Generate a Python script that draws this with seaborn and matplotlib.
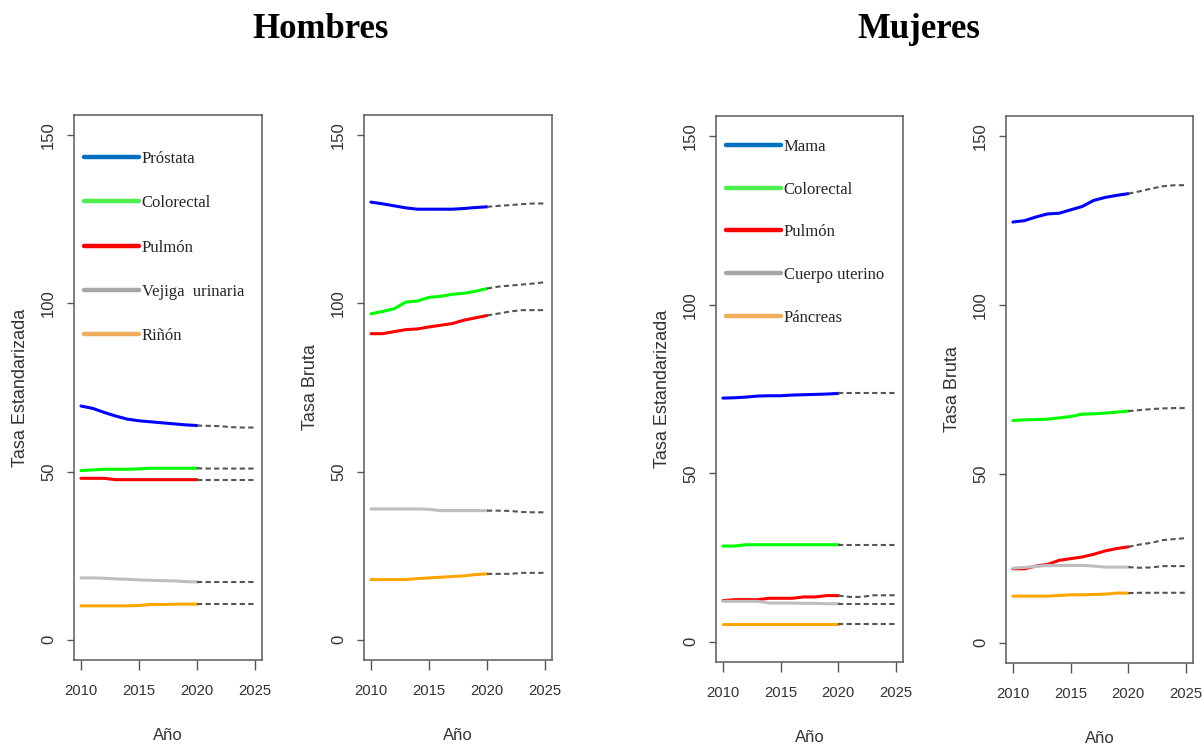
import numpy as np
import pandas as pd
import matplotlib
matplotlib.use("Agg")
import matplotlib.pyplot as plt
from matplotlib.lines import Line2D
import seaborn as sns

# ---------------- data ----------------
years_obs = list(range(2010, 2021))
years_proj = list(range(2020, 2026))

cancer_h = ["Próstata", "Colorectal", "Pulmón", "Vejiga  urinaria", "Riñón"]
cancer_m = ["Mama", "Colorectal", "Pulmón", "Cuerpo uterino", "Páncreas"]

# Hombres - Tasa Estandarizada
h_est_obs = {
    "Próstata":         [69.5, 68.8, 67.6, 66.5, 65.6, 65.1, 64.8, 64.5, 64.2, 63.9, 63.7],
    "Colorectal":       [50.3, 50.5, 50.7, 50.7, 50.7, 50.8, 51.0, 51.0, 51.0, 51.0, 51.0],
    "Pulmón":           [48.0, 48.0, 48.0, 47.6, 47.6, 47.6, 47.6, 47.6, 47.6, 47.6, 47.6],
    "Vejiga  urinaria": [18.4, 18.4, 18.3, 18.1, 18.0, 17.8, 17.7, 17.6, 17.5, 17.3, 17.2],
    "Riñón":            [10.1, 10.1, 10.1, 10.1, 10.1, 10.2, 10.5, 10.5, 10.6, 10.6, 10.6],
}
h_est_proj = {
    "Próstata":         [63.7, 63.6, 63.5, 63.2, 63.1, 63.1],
    "Colorectal":       [51.0, 50.9, 50.9, 50.9, 50.9, 50.9],
    "Pulmón":           [47.6, 47.6, 47.6, 47.6, 47.6, 47.6],
    "Vejiga  urinaria": [17.2, 17.2, 17.2, 17.2, 17.2, 17.2],
    "Riñón":            [10.6, 10.6, 10.6, 10.6, 10.6, 10.6],
}
# Hombres - Tasa Bruta
h_bru_obs = {
    "Próstata":         [130.1, 129.6, 129.0, 128.4, 128.0, 128.0, 128.0, 128.0, 128.2, 128.5, 128.7],
    "Colorectal":       [96.9, 97.6, 98.4, 100.4, 100.7, 101.8, 102.1, 102.7, 103.0, 103.6, 104.4],
    "Pulmón":           [91.0, 91.0, 91.6, 92.2, 92.4, 93.0, 93.5, 94.0, 95.0, 95.7, 96.4],
    "Vejiga  urinaria": [38.9, 38.9, 38.9, 38.9, 38.9, 38.8, 38.4, 38.4, 38.4, 38.4, 38.4],
    "Riñón":            [17.9, 17.9, 17.9, 17.9, 18.2, 18.4, 18.6, 18.8, 19.0, 19.4, 19.6],
}
h_bru_proj = {
    "Próstata":         [128.7, 129.0, 129.2, 129.5, 129.7, 129.7],
    "Colorectal":       [104.4, 105.0, 105.3, 105.6, 105.9, 106.3],
    "Pulmón":           [96.4, 97.0, 97.6, 98.0, 98.0, 98.0],
    "Vejiga  urinaria": [38.4, 38.4, 38.3, 38.0, 37.9, 37.9],
    "Riñón":            [19.6, 19.6, 19.6, 19.9, 19.9, 19.9],
}
# Mujeres - Tasa Estandarizada
m_est_obs = {
    "Mama":           [72.3, 72.4, 72.6, 72.9, 73.0, 73.0, 73.2, 73.3, 73.4, 73.5, 73.7],
    "Colorectal":     [28.4, 28.4, 28.8, 28.8, 28.8, 28.8, 28.8, 28.8, 28.8, 28.8, 28.8],
    "Pulmón":         [12.2, 12.5, 12.5, 12.5, 12.9, 12.9, 12.9, 13.3, 13.3, 13.7, 13.7],
    "Cuerpo uterino": [12.0, 12.0, 12.0, 12.0, 11.5, 11.5, 11.5, 11.4, 11.4, 11.3, 11.3],
    "Páncreas":       [5.3, 5.3, 5.3, 5.3, 5.3, 5.3, 5.3, 5.3, 5.3, 5.3, 5.3],
}
m_est_proj = {
    "Mama":           [73.7, 73.7, 73.7, 73.7, 73.7, 73.7],
    "Colorectal":     [28.8, 28.8, 28.8, 28.8, 28.8, 28.8],
    "Pulmón":         [13.7, 13.3, 13.3, 13.8, 13.8, 13.8],
    "Cuerpo uterino": [11.3, 11.3, 11.3, 11.3, 11.3, 11.3],
    "Páncreas":       [5.3, 5.3, 5.3, 5.3, 5.3, 5.3],
}
# Mujeres - Tasa Bruta
m_bru_obs = {
    "Mama":           [124.6, 125.0, 126.1, 127.0, 127.2, 128.2, 129.2, 131.0, 131.9, 132.5, 133.0],
    "Colorectal":     [65.8, 66.0, 66.1, 66.2, 66.6, 67.0, 67.7, 67.8, 68.0, 68.3, 68.6],
    "Pulmón":         [21.9, 21.9, 22.7, 23.2, 24.4, 24.9, 25.4, 26.2, 27.2, 27.9, 28.4],
    "Cuerpo uterino": [22.1, 22.3, 22.6, 22.9, 22.9, 22.9, 22.9, 22.7, 22.4, 22.4, 22.4],
    "Páncreas":       [13.8, 13.8, 13.8, 13.8, 14.0, 14.2, 14.2, 14.3, 14.4, 14.7, 14.7],
}
m_bru_proj = {
    "Mama":           [133.0, 133.7, 134.5, 135.2, 135.5, 135.5],
    "Colorectal":     [68.6, 68.9, 69.2, 69.4, 69.5, 69.5],
    "Pulmón":         [28.4, 29.1, 29.6, 30.4, 30.7, 31.0],
    "Cuerpo uterino": [22.4, 22.2, 22.3, 22.7, 22.7, 22.7],
    "Páncreas":       [14.7, 14.8, 14.8, 14.8, 14.8, 14.8],
}

line_colors = ["#0000FF", "#00FF00", "#FF0000", "#BEBEBE", "#FFA500"]
legend_colors = ["#0070C0", "#4CEF4C", "#FF0000", "#A6A6A6", "#EFAE5A"]
proj_color = "#555555"

yticks = [0, 50, 100, 150]
xticks = [2010, 2015, 2020, 2025]


def to_long(d, years):
    rows = []
    for k, vals in d.items():
        for y, v in zip(years, vals):
            rows.append({"Año": y, "Tasa": v, "Cáncer": k})
    return pd.DataFrame(rows)


# ---------------- figure ----------------
sns.set_style("white")
plt.rcParams["font.family"] = ["Liberation Sans", "DejaVu Sans"]

W, H = 1202, 746
fig = plt.figure(figsize=(W / 100, H / 100), dpi=100)


def add_ax(l, r, t, b):
    return fig.add_axes([l / W, (H - b) / H, (r - l) / W, (b - t) / H])


panels = [
    (add_ax(74, 262, 115, 660), h_est_obs, h_est_proj, cancer_h, "Tasa Estandarizada", True, 0.934, 1.7),
    (add_ax(364, 552, 115, 660), h_bru_obs, h_bru_proj, cancer_h, "Tasa Bruta", False, None, None),
    (add_ax(716, 903, 116, 662), m_est_obs, m_est_proj, cancer_m, "Tasa Estandarizada", True, 0.958, 1.6),
    (add_ax(1006, 1193, 116, 663), m_bru_obs, m_bru_proj, cancer_m, "Tasa Bruta", False, None, None),
]

for ax, obs, proj, names, ylab, has_leg, leg_y, leg_ls in panels:
    df_o = to_long(obs, years_obs)
    df_p = to_long(proj, years_proj)
    sns.lineplot(data=df_o, x="Año", y="Tasa", hue="Cáncer", hue_order=names,
                 palette=line_colors, linewidth=2.2, legend=False, ax=ax,
                 estimator=None)
    sns.lineplot(data=df_p, x="Año", y="Tasa", units="Cáncer", estimator=None,
                 color=proj_color, linewidth=1.5, dashes=False, legend=False, ax=ax)
    for ln in ax.lines[len(names):]:
        ln.set_linestyle((0, (2.5, 1.6)))

    ax.set_xlim(2009.4, 2025.6)
    ax.set_ylim(-6, 156)
    ax.set_xticks(xticks)
    ax.set_yticks(yticks)
    ax.set_xticklabels([str(x) for x in xticks], fontsize=10.7)
    ax.set_yticklabels([str(y) for y in yticks], rotation=90, va="center", fontsize=12)
    ax.tick_params(axis="x", length=7.2, width=1.0, color="#555555", pad=10,
                   labelcolor="#333333", bottom=True, direction="out")
    ax.tick_params(axis="y", length=5, width=1.0, color="#555555", pad=8,
                   labelcolor="#333333", left=True, direction="out")
    for sp in ax.spines.values():
        sp.set_visible(True)
        sp.set_color("#5a5a5a")
        sp.set_linewidth(1.1)
    ax.set_xlabel("Año", fontsize=12, color="#333333")
    ax.set_ylabel(ylab, fontsize=13, color="#333333")
    ax.xaxis.set_label_coords(0.5, -68 / 545)
    ax.yaxis.set_label_coords(-45 / 188, 0.5)
    ax.grid(False)

    if has_leg:
        handles = [Line2D([0], [0], color=c, lw=3.2) for c in legend_colors]
        ax.legend(handles, names, loc="upper left", bbox_to_anchor=(0.055, leg_y),
                  frameon=False, borderpad=0, borderaxespad=0, handlelength=3.3,
                  handletextpad=0.15, labelspacing=leg_ls,
                  prop={"family": "Liberation Serif", "size": 12})

fig.text(321 / W, 1 - 29 / H, "Hombres", ha="center", va="center", color="black",
         fontsize=25, fontweight="bold", family="Liberation Serif")
fig.text(919 / W, 1 - 29 / H, "Mujeres", ha="center", va="center", color="black",
         fontsize=25, fontweight="bold", family="Liberation Serif")

fig.savefig("out.png", dpi=100)
